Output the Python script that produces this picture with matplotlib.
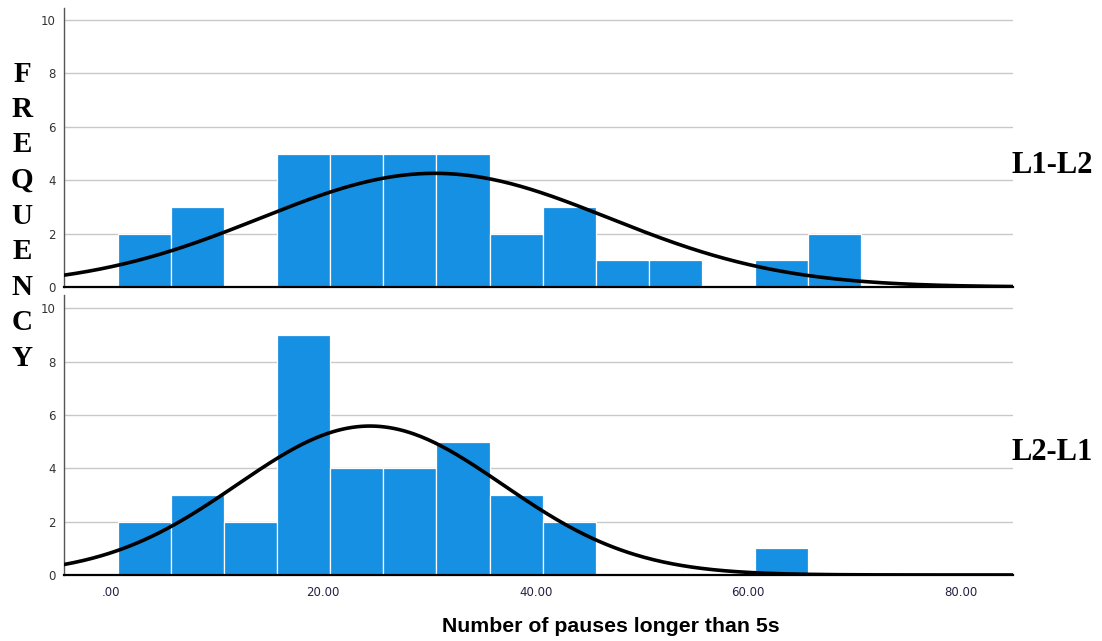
import matplotlib.pyplot as plt
import numpy as np

# histogram bins (width 5) and counts
bin_edges = [0.65 + 5 * i for i in range(15)]
counts_l1l2 = [2, 3, 0, 5, 5, 5, 5, 2, 3, 1, 1, 0, 1, 2]
counts_l2l1 = [2, 3, 2, 9, 4, 4, 5, 3, 2, 0, 0, 0, 1, 0]

# fitted normal curves (mean, sd, n)
fit_l1l2 = (30.5, 16.4, 35)
fit_l2l1 = (24.4, 12.5, 35)

xticks = [0, 20, 40, 60, 80]
xticklabels = ['.00', '20.00', '40.00', '60.00', '80.00']
yticks = [0, 2, 4, 6, 8, 10]
panel_labels = ['L1-L2', 'L2-L1']

bar_color = '#1590e3'
xlim = (-4.4, 84.9)

fig = plt.figure(figsize=(11.02, 6.41), dpi=100)
ax1 = fig.add_axes([0.0581, 0.5523, 0.8609, 0.4352])
ax2 = fig.add_axes([0.0581, 0.1030, 0.8609, 0.4368])


def draw_panel(ax, counts, fit, ytop):
    width = bin_edges[1] - bin_edges[0]
    ax.bar(bin_edges[:-1], counts, width=width, align='edge',
           color=bar_color, edgecolor='white', linewidth=0.9, zorder=2)
    mu, sd, n = fit
    xs = np.linspace(xlim[0], xlim[1], 400)
    ys = n * width / (sd * np.sqrt(2 * np.pi)) * np.exp(-(xs - mu) ** 2 / (2 * sd ** 2))
    ax.plot(xs, ys, color='black', linewidth=2.6, zorder=3)
    ax.set_xlim(*xlim)
    ax.set_ylim(0, ytop)
    ax.set_yticks(yticks)
    ax.set_yticklabels([str(t) for t in yticks], fontsize=8.5, color='#333333')
    ax.yaxis.grid(True, color='#c8c8c8', linewidth=1.0, zorder=0)
    ax.set_axisbelow(True)
    ax.tick_params(length=0, pad=6)
    for s in ['top', 'right']:
        ax.spines[s].set_visible(False)
    ax.spines['left'].set_color('#555555')
    ax.spines['left'].set_linewidth(1.0)
    ax.spines['bottom'].set_color('black')
    ax.spines['bottom'].set_linewidth(1.6)
    ax.spines['bottom'].set_zorder(4)


draw_panel(ax1, counts_l1l2, fit_l1l2, 10.45)
draw_panel(ax2, counts_l2l1, fit_l2l1, 10.5)

ax1.set_xticks(xticks)
ax1.set_xticklabels([])
ax2.set_xticks(xticks)
ax2.set_xticklabels(xticklabels, fontsize=8.5, color='#222244')
ax2.tick_params(axis='x', pad=8)

# vertical "FREQUENCY" label
letters = 'FREQUENCY'
for i, ch in enumerate(letters):
    y = 74 + i * 35.5
    fig.text(22 / 1102, 1 - y / 641, ch, ha='center', va='center',
             fontsize=21, fontweight='bold', family='Liberation Serif')

fig.text(1012 / 1102, 1 - 165 / 641, panel_labels[0], ha='left', va='center',
         fontsize=22, fontweight='bold', family='Liberation Serif')
fig.text(1012 / 1102, 1 - 453 / 641, panel_labels[1], ha='left', va='center',
         fontsize=22, fontweight='bold', family='Liberation Serif')

fig.text(611 / 1102, 1 - 627 / 641, 'Number of pauses longer than 5s',
         ha='center', va='center', fontsize=15.3, fontweight='bold',
         family='Liberation Sans')

plt.savefig('out.png', dpi=100)
